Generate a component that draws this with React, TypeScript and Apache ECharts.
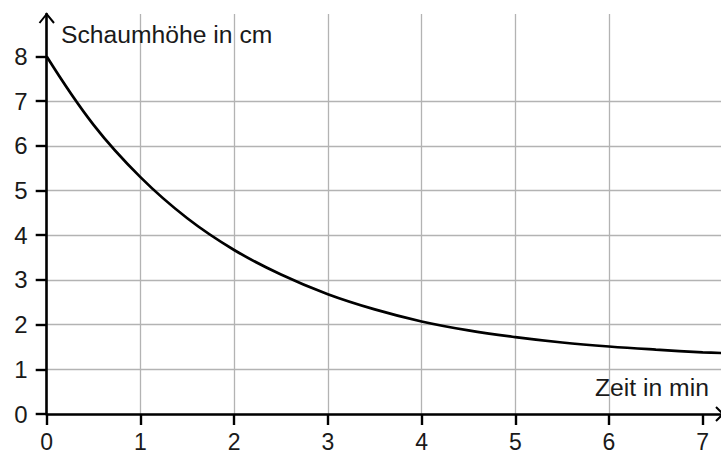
import React, { useEffect, useRef } from "react";
import * as echarts from "echarts";

const timeMin = [0, 0.5, 1, 1.5, 2, 2.5, 3, 3.5, 4, 4.5, 5, 5.5, 6, 6.5, 7, 7.2];
const foamHeight = [8, 6.47, 5.3, 4.38, 3.67, 3.12, 2.68, 2.34, 2.07, 1.87, 1.72, 1.6, 1.51, 1.44, 1.38, 1.365];
const xTicks = [0, 1, 2, 3, 4, 5, 6, 7];
const yTicks = [0, 1, 2, 3, 4, 5, 6, 7, 8];
const yAxisTitle = "Schaumhöhe in cm";
const xAxisTitle = "Zeit in min";

const FONT = "'Liberation Sans', Arial, Helvetica, sans-serif";

export default function App() {
  const ref = useRef<HTMLDivElement>(null);
  useEffect(() => {
    if (!ref.current) return;
    const chart = echarts.init(ref.current, null, { renderer: "svg" });
    chart.setOption({
      animation: false,
      backgroundColor: "#ffffff",
      grid: {
        left: 46.7,
        right: 0,
        top: 14,
        bottom: 38,
        containLabel: false,
        outerBoundsMode: "none",
      },
      xAxis: {
        type: "value",
        min: 0,
        max: 7.195,
        interval: 1,
        axisLine: { show: true, lineStyle: { color: "#000", width: 2.6 } },
        axisTick: {
          show: true,
          inside: false,
          length: 11,
          customValues: xTicks,
          lineStyle: { color: "#000", width: 2.4 },
        },
        axisLabel: {
          customValues: xTicks,
          margin: 18,
          color: "#1a1a1a",
          fontSize: 23,
          lineHeight: 20,
          fontFamily: FONT,
        },
        splitLine: {
          show: true,
          showMaxLine: false,
          lineStyle: { color: "#b3b3b3", width: 1.3 },
        },
      },
      yAxis: {
        type: "value",
        min: 0,
        max: 8.95,
        interval: 1,
        axisLine: { show: true, lineStyle: { color: "#000", width: 2.6 } },
        axisTick: {
          show: true,
          inside: false,
          length: 11,
          customValues: yTicks,
          lineStyle: { color: "#000", width: 2.4 },
        },
        axisLabel: {
          customValues: yTicks,
          margin: 19,
          color: "#1a1a1a",
          fontSize: 24,
          fontFamily: FONT,
        },
        splitLine: {
          show: true,
          showMaxLine: false,
          lineStyle: { color: "#b3b3b3", width: 1.3 },
        },
      },
      series: [
        {
          type: "line",
          data: timeMin.map((t, i) => [t, foamHeight[i]]),
          smooth: 0.4,
          showSymbol: false,
          clip: true,
          lineStyle: { color: "#000", width: 2.7 },
          z: 5,
        },
      ],
      graphic: [
        {
          type: "polyline",
          shape: { points: [[39.5, 23], [46.7, 14], [54, 23]] },
          style: { stroke: "#000", lineWidth: 2, fill: null },
          z: 10,
        },
        {
          type: "polyline",
          shape: { points: [[716, 407], [723, 414], [716, 421]] },
          style: { stroke: "#000", lineWidth: 2, fill: null },
          z: 10,
        },
        {
          type: "text",
          left: 61,
          top: 22,
          style: { text: yAxisTitle, fill: "#1a1a1a", font: `24.7px ${FONT}` },
          z: 10,
        },
        {
          type: "text",
          left: 595,
          top: 375,
          style: { text: xAxisTitle, fill: "#1a1a1a", font: `24.7px ${FONT}` },
          z: 10,
        },
      ],
    });
    return () => chart.dispose();
  }, []);
  return (
    <div
      ref={ref}
      style={{ position: "fixed", left: 0, top: 0, width: 721, height: 452 }}
    />
  );
}
